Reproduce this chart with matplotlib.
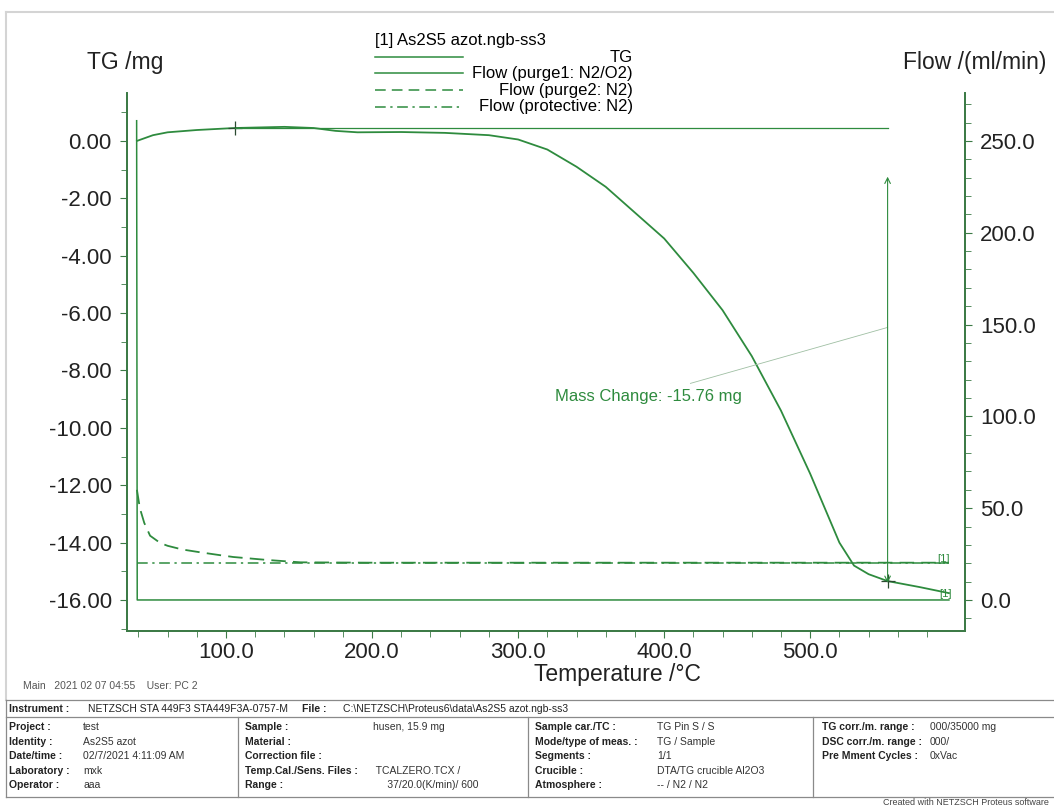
import matplotlib
matplotlib.use("Agg")
import matplotlib.pyplot as plt
from matplotlib.ticker import MultipleLocator, FixedLocator, FormatStrFormatter
from matplotlib.lines import Line2D

plt.rcParams['font.family'] = ['Liberation Sans', 'DejaVu Sans']

# ---- data ----
temp_tg = [39, 50, 60, 80, 106, 140, 160, 175, 190, 220, 250, 280, 300, 320, 340,
           360, 380, 400, 420, 440, 460, 480, 500, 510, 520, 530, 540, 553, 575, 595]
tg = [0.0, 0.2, 0.3, 0.38, 0.45, 0.49, 0.45, 0.35, 0.30, 0.31, 0.28, 0.2, 0.05, -0.3, -0.9,
      -1.6, -2.5, -3.4, -4.6, -5.9, -7.5, -9.4, -11.6, -12.8, -14.0, -14.8, -15.1, -15.34, -15.55, -15.76]

temp_p2 = [39, 41, 44, 48, 55, 60, 70, 82, 95, 105, 128, 151, 200, 300, 400, 500, 595]
purge2 = [60, 50, 42, 35, 31, 29.5, 27.5, 26, 24.5, 23.4, 21.8, 20.5, 20.3, 20.3, 20.3, 20.3, 20.3]

temp_p1 = [38.8, 39.2, 595]
purge1 = [261, 0, 0]

temp_prot = [39, 595]
protective = [20.3, 20.3]

eval_temp = [106, 553]
eval_tg = [0.45, -15.34]
mass_change = -15.76

x_major = [100, 200, 300, 400, 500]
x_minor = list(range(40, 600, 20))

legend_rows = ["TG", "Flow (purge1: N2/O2)", "Flow (purge2: N2)", "Flow (protective: N2)"]
legend_styles = ["-", "-", (0, (7, 4)), (0, (7, 3, 1.5, 3))]

header = [("Instrument :", 9, True), ("NETZSCH STA 449F3 STA449F3A-0757-M", 88, False),
          ("File :", 302, True), ("C:\\NETZSCH\\Proteus6\\data\\As2S5 azot.ngb-ss3", 343, False)]
col1 = [("Project :", "test"), ("Identity :", "As2S5 azot"), ("Date/time :", "02/7/2021 4:11:09 AM"),
        ("Laboratory :", "mxk"), ("Operator :", "aaa")]
col2 = [("Sample :", "husen, 15.9 mg"), ("Material :", ""), ("Correction file :", ""),
        ("Temp.Cal./Sens. Files :", " TCALZERO.TCX /"), ("Range :", "     37/20.0(K/min)/ 600")]
col3 = [("Sample car./TC :", "TG Pin S / S"), ("Mode/type of meas. :", "TG / Sample"),
        ("Segments :", "1/1"), ("Crucible :", "DTA/TG crucible Al2O3"), ("Atmosphere :", "-- / N2 / N2")]
col4 = [("TG corr./m. range :", "000/35000 mg"), ("DSC corr./m. range :", "000/"),
        ("Pre Mment Cycles :", "0xVac")]

GREEN = '#2e8b3e'
AXG = '#3c7a46'
W, H = 1054, 805


def fx(x):
    return x / W


def fy(y):
    return 1 - y / H


fig = plt.figure(figsize=(W / 100, H / 100), dpi=100)
ax = fig.add_axes([fx(127), fy(631), fx(965) - fx(127), fy(93) - fy(631)])
ax2 = ax.twinx()

ax.plot(temp_tg, tg, color=GREEN, lw=1.3)
ax.plot(eval_temp, eval_tg, ls='none', marker='+', ms=10, mew=0.9, color='#2b4a30')
ax.plot([eval_temp[0], eval_temp[1]], [eval_tg[0], eval_tg[0]], color=GREEN, lw=0.9)
ax.annotate('', xy=(eval_temp[1], -1.15), xytext=(eval_temp[1], -15.5),
            arrowprops=dict(arrowstyle='<->', color=GREEN, lw=0.8, mutation_scale=10))
ax.plot([418, eval_temp[1]], [-8.45, -6.5], color='#9fbfa3', lw=0.6)
ax.text(325, -8.92, f"Mass Change: {mass_change:.2f} mg", color=GREEN, fontsize=12,
        ha='left', va='center')

ax2.plot(temp_p1, purge1, color=GREEN, lw=1.1)
ax2.plot(temp_p2, purge2, color=GREEN, lw=1.3, ls=(0, (8, 4)))
ax2.plot(temp_prot, protective, color=GREEN, lw=1.1, ls=(0, (7, 3, 1.5, 3)))
ax2.text(591, protective[-1] + 2, "[1]", color=GREEN, fontsize=8, ha='center', va='center')
ax2.text(592.5, purge1[-1] + 3, "[1]", color=GREEN, fontsize=8, ha='center', va='center')

ax.set_xlim(32.2, 606)
ax.set_ylim(-17.08, 1.67)
ax2.set_ylim(-16.9, 276.1)

for a in (ax, ax2):
    a.spines['top'].set_visible(False)
    for s in ('left', 'right', 'bottom'):
        a.spines[s].set_color(AXG)
        a.spines[s].set_linewidth(1.3)

ax.xaxis.set_major_locator(FixedLocator(x_major))
ax.xaxis.set_minor_locator(FixedLocator(x_minor))
ax.xaxis.set_major_formatter(FormatStrFormatter('%.1f'))
ax.yaxis.set_major_locator(MultipleLocator(2))
ax.yaxis.set_minor_locator(MultipleLocator(1))
ax.yaxis.set_major_formatter(FormatStrFormatter('%.2f'))
ax2.yaxis.set_major_locator(MultipleLocator(50))
ax2.yaxis.set_minor_locator(MultipleLocator(10))
ax2.yaxis.set_major_formatter(FormatStrFormatter('%.1f'))

ax.tick_params(axis='both', which='both', direction='out', color=AXG, labelsize=16,
               labelcolor='#222222')
ax.tick_params(axis='y', pad=6)
ax.tick_params(axis='x', pad=3)
ax.tick_params(which='major', length=5)
ax.tick_params(which='minor', length=4)
ax2.tick_params(axis='y', which='both', direction='out', color=AXG, labelsize=16,
                labelcolor='#222222', pad=6)
ax2.tick_params(which='major', length=5)
ax2.tick_params(which='minor', length=4)

fig.text(fx(125), fy(62), "TG /mg", fontsize=16.5, ha='center', va='center', color='#222222')
fig.text(fx(975), fy(62), "Flow /(ml/min)", fontsize=16.5, ha='center', va='center', color='#222222')
fig.text(fx(617), fy(674), "Temperature /°C", fontsize=16.5, ha='center', va='center', color='#222222')

# legend block
fig.text(fx(375), fy(40), "[1] As2S5 azot.ngb-ss3", fontsize=12, ha='left', va='center')
for i, (lab, st) in enumerate(zip(legend_rows, legend_styles)):
    yy = fy(57 + 16.5 * i)
    fig.add_artist(Line2D([fx(375), fx(463)], [yy, yy], color=GREEN, lw=1.1, ls=st))
    fig.text(fx(633), yy, lab, fontsize=12, ha='right', va='center')

# page frame
frame_col = '#d4d4d4'
fig.add_artist(Line2D([fx(6), fx(1054)], [fy(12), fy(12)], color=frame_col, lw=1.5))
fig.add_artist(Line2D([fx(6), fx(6)], [fy(12), fy(700)], color=frame_col, lw=1.5))

# footer
fig.text(fx(23), fy(686), "Main   2021 02 07 04:55    User: PC 2", fontsize=7.5, ha='left', va='center',
         color='#555555')
box_col = '#8a8a8a'
for yy in (700, 717, 797):
    fig.add_artist(Line2D([fx(6), fx(1054)], [fy(yy), fy(yy)], color=box_col, lw=0.9))
fig.add_artist(Line2D([fx(6), fx(6)], [fy(700), fy(797)], color=box_col, lw=0.9))
for xx in (238, 528, 813):
    fig.add_artist(Line2D([fx(xx), fx(xx)], [fy(717), fy(797)], color=box_col, lw=0.9))

for txt, xx, bold in header:
    fig.text(fx(xx), fy(709), txt, fontsize=7.5, ha='left', va='center',
             fontweight='bold' if bold else 'normal', color='#222222')

columns = [(col1, 9, 83), (col2, 245, 373), (col3, 535, 657), (col4, 822, 930)]
for rows, xl, xv in columns:
    for j, (lab, val) in enumerate(rows):
        yy = fy(727 + 14.5 * j)
        fig.text(fx(xl), yy, lab, fontsize=7.5, fontweight='bold', ha='left', va='center', color='#222222')
        fig.text(fx(xv), yy, val, fontsize=7.5, ha='left', va='center', color='#333333')

fig.text(fx(883), fy(802), "Created with NETZSCH Proteus software", fontsize=6.5, ha='left',
         va='center', color='#444444')

fig.savefig("out.png", dpi=100)
